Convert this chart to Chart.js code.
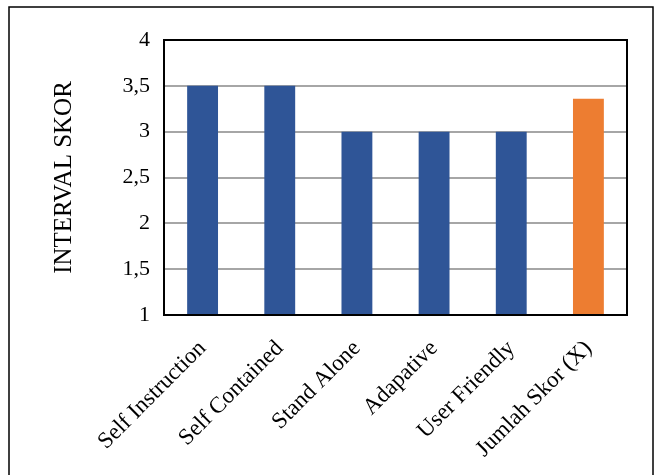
<!DOCTYPE html>
<html>
<head>
<meta charset="utf-8">
<script src="https://cdn.jsdelivr.net/npm/chart.js@4"></script>
<style>
  html, body { margin: 0; padding: 0; background: #fff; }
  #wrap { width: 662px; height: 475px; }
</style>
</head>
<body>
<div id="wrap"><canvas id="skorChart" width="662" height="475"></canvas></div>
<script>
const categories = ['Self Instruction', 'Self Contained', 'Stand Alone', 'Adapative', 'User Friendly', 'Jumlah Skor (X)'];
const scores = [3.5, 3.5, 3, 3, 3, 3.36];
const barColors = ['#2f5597', '#2f5597', '#2f5597', '#2f5597', '#2f5597', '#ed7d31'];
const yTicks = [1, 1.5, 2, 2.5, 3, 3.5, 4];

const serif = '"Liberation Serif", "Times New Roman", serif';

// outer frame + plot border
const frame = {
    id: 'frame',
    afterDraw(chart) {
        const c = chart.ctx;
        const a = chart.chartArea;
        c.save();
        c.strokeStyle = '#000';
        c.lineWidth = 1.5;
        c.strokeRect(9, 7, 644, 490);
        c.lineWidth = 2;
        c.strokeRect(a.left, a.top, a.right - a.left, a.bottom - a.top);
        c.restore();
    }
};

new Chart(document.getElementById('skorChart').getContext('2d'), {
    type: 'bar',
    data: {
        labels: categories,
        datasets: [{
            data: scores,
            backgroundColor: barColors,
            borderWidth: 0,
            base: 1,
            categoryPercentage: 1,
            barPercentage: 0.4
        }]
    },
    options: {
        responsive: false,
        animation: false,
        layout: {padding: {top: 40, right: 35, left: 10, bottom: 0}},
        plugins: {legend: {display: false}, tooltip: {enabled: false}},
        scales: {
            x: {
                grid: {display: false, drawTicks: false},
                border: {display: false},
                ticks: {
                    color: '#000',
                    font: {family: serif, size: 23},
                    maxRotation: 45,
                    minRotation: 45,
                    padding: 20,
                    autoSkip: false
                },
                afterFit(scale) { scale.height = 160; }
            },
            y: {
                min: 1,
                max: 4,
                afterBuildTicks(scale) { scale.ticks = yTicks.map(v => ({value: v})); },
                grid: {color: '#a6a6a6', lineWidth: 2, drawTicks: false},
                border: {display: false},
                ticks: {
                    color: '#000',
                    font: {family: serif, size: 22},
                    padding: 14,
                    callback: v => String(v).replace('.', ',')
                },
                title: {
                    display: true,
                    text: 'INTERVAL SKOR',
                    color: '#000',
                    font: {family: serif, size: 25},
                    padding: {top: 39, bottom: 0}
                },
                afterFit(scale) { scale.width = 154; }
            }
        }
    },
    plugins: [frame]
});
</script>
</body>
</html>
